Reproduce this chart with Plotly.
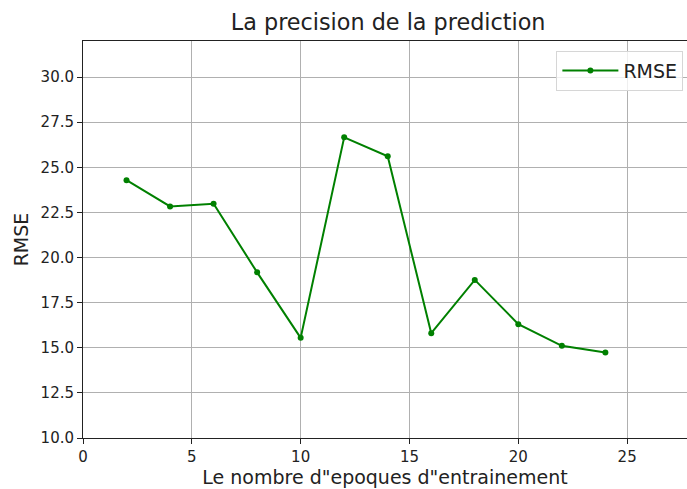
import plotly.graph_objects as go

# Training epochs and the resulting RMSE
epochs = [2, 4, 6, 8, 10, 12, 14, 16, 18, 20, 22, 24]
rmse = [24.29, 22.83, 22.98, 19.18, 15.55, 26.66, 25.61, 15.81, 18.76, 16.31, 15.11, 14.74]

x_ticks = [0, 5, 10, 15, 20, 25]
y_ticks = [10.0, 12.5, 15.0, 17.5, 20.0, 22.5, 25.0, 27.5, 30.0]

font_family = "DejaVu Sans"

fig = go.Figure()
fig.add_trace(go.Scatter(
    x=epochs, y=rmse, mode="lines+markers", name="RMSE",
    line=dict(color="#008000", width=2),
    marker=dict(color="#008000", size=6),
))

fig.update_layout(
    width=687, height=489,
    margin=dict(l=83, r=0, t=41, b=51),
    paper_bgcolor="white", plot_bgcolor="white",
    font=dict(family=font_family, color="#222222", size=15),
    title=dict(text="La precision de la prediction", x=0.565, xanchor="center",
               y=1 - 22 / 489, yanchor="middle", yref="container",
               font=dict(size=22.3, color="#222222")),
    showlegend=True,
    legend=dict(x=0.994, y=0.976, xanchor="right", yanchor="top",
                bgcolor="rgba(255,255,255,0.8)", bordercolor="#d6d6d6", borderwidth=1,
                font=dict(size=19), itemwidth=56),
)

fig.update_xaxes(
    range=[0, 27.75], tickvals=x_ticks, ticktext=[str(v) for v in x_ticks],
    showgrid=True, gridcolor="#b0b0b0", gridwidth=1,
    showline=True, linecolor="#222222", linewidth=1, mirror=True,
    ticks="outside", ticklen=5, tickcolor="#222222", zeroline=False,
    title=dict(text='Le nombre d"epoques d"entrainement', font=dict(size=19), standoff=5),
)
fig.update_yaxes(
    range=[10, 32], tickvals=y_ticks, ticktext=[f"{v:.1f}" for v in y_ticks],
    showgrid=True, gridcolor="#b0b0b0", gridwidth=1,
    showline=True, linecolor="#222222", linewidth=1, mirror=False,
    ticks="outside", ticklen=5, tickcolor="#222222", zeroline=False,
    title=dict(text="RMSE", font=dict(size=19), standoff=6),
)

fig.write_html("out.html")
